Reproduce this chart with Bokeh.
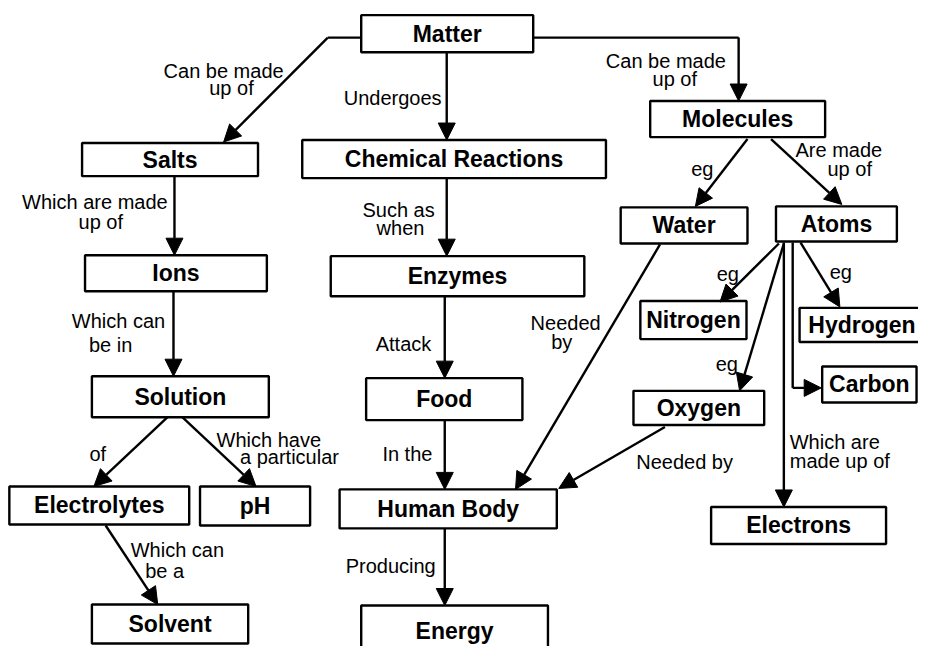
from bokeh.plotting import figure
from bokeh.models import Range1d, Arrow, NormalHead, ColumnDataSource
from bokeh.core.properties import value
from bokeh.embed import file_html
from bokeh.resources import INLINE

# ---- nodes (concept boxes): name, left, right, top, bottom (image pixel space) ----
node_names = ["Matter", "Salts", "Chemical Reactions", "Molecules", "Water", "Atoms",
              "Ions", "Enzymes", "Nitrogen", "Hydrogen", "Carbon", "Solution", "Food",
              "Oxygen", "Electrolytes", "pH", "Human Body", "Electrons", "Solvent", "Energy"]
node_left   = [367, 83, 307, 661, 631, 789, 86, 336, 651, 813, 836, 93, 372, 644, 9, 203, 345, 723, 93, 367]
node_right  = [542, 262, 616, 839, 760, 912, 271, 594, 759, 940, 932, 273, 531, 777, 192, 315, 566, 901, 252, 557]
node_top    = [15, 146, 143, 103, 212, 211, 261, 262, 308, 315, 375, 385, 387, 400, 498, 498, 501, 519, 619, 620]
node_bottom = [53, 180, 182, 140, 249, 247, 298, 303, 347, 350, 412, 427, 430, 435, 537, 538, 541, 557, 659, 672]

# ---- arrows (with head): start -> end ----
arrow_x0 = [333, 454, 751, 760, 784, 177, 454, 176, 452, 170, 185, 452, 107, 452, 671, 676, 792, 797, 814, 806, 797]
arrow_y0 = [38, 53, 38, 142, 142, 180, 182, 298, 303, 427, 427, 430, 538, 541, 250, 437, 249, 249, 248, 397, 248]
arrow_x1 = [227, 454, 751, 707, 856, 177, 454, 176, 452, 95, 260, 452, 160, 452, 524, 568, 732, 752, 854, 835, 797]
arrow_y1 = [145, 143, 103, 211, 209, 261, 262, 385, 387, 498, 498, 501, 619, 620, 501, 500, 309, 400, 314, 397, 519]

# ---- connector segments without head ----
seg_x0 = [367, 542, 806]
seg_y0 = [38, 38, 248]
seg_x1 = [333, 751, 806]
seg_y1 = [38, 38, 397]

# ---- link labels ----
label_text = ["Can be made", "up of", "Undergoes", "Can be made", "up of", "eg", "Are made", "up of",
              "Which are made", "up of", "Such as", "when", "Which can", "be in", "Attack",
              "Needed", "by", "eg", "eg", "eg", "of", "Which have", "a particular", "In the",
              "Needed by", "Which are", "made up of", "Which can", "be a", "Producing"]
label_x = [227, 235, 399, 677, 686, 714, 853, 864, 96, 102, 405, 407, 120, 112, 410,
           575, 571, 740, 855, 739, 99, 273, 294, 414, 696, 803, 803, 180, 167, 397]
label_y = [72, 90, 100, 62, 80, 173, 153, 173, 207, 227, 215, 233, 328, 353, 352,
           330, 350, 280, 278, 372, 465, 450, 468, 465, 473, 452, 472, 563, 585, 580]
label_align = ["center"] * 25 + ["left", "left"] + ["center"] * 3

W, H = 934, 662
p = figure(width=918, height=646, output_backend="svg", toolbar_location=None,
           x_range=Range1d(0, W), y_range=Range1d(H, 0), min_border=0)
p.axis.visible = False
p.grid.visible = False
p.outline_line_color = None
p.background_fill_color = "white"

# connectors
p.segment(x0=seg_x0, y0=seg_y0, x1=seg_x1, y1=seg_y1, line_color="black", line_width=2.4)

# arrows
asrc = ColumnDataSource(dict(x0=arrow_x0, y0=arrow_y0, x1=arrow_x1, y1=arrow_y1))
p.add_layout(Arrow(end=NormalHead(size=17, fill_color="black", line_color="black", line_width=1),
                   x_start="x0", y_start="y0", x_end="x1", y_end="y1", source=asrc,
                   line_color="black", line_width=2.4))

# boxes
nsrc = ColumnDataSource(dict(name=node_names, left=node_left, right=node_right,
                             top=node_top, bottom=node_bottom,
                             cx=[(a + b) / 2 for a, b in zip(node_left, node_right)],
                             cy=[(a + b) / 2 for a, b in zip(node_top, node_bottom)]))
p.quad(left="left", right="right", top="top", bottom="bottom", source=nsrc,
       fill_color="white", line_color="black", line_width=2.4)
p.text(x="cx", y="cy", text="name", source=nsrc, text_align="center", text_baseline="middle",
       text_font=value("Liberation Sans"), text_font_style="bold", text_font_size="23px",
       text_color="black")

# link labels
lsrc = ColumnDataSource(dict(t=label_text, x=label_x, y=label_y, a=label_align))
p.text(x="x", y="y", text="t", source=lsrc, text_align="a", text_baseline="middle",
       text_font=value("Liberation Sans"), text_font_size="20px", text_color="black")

open("out.html", "w").write(file_html(p, INLINE))
